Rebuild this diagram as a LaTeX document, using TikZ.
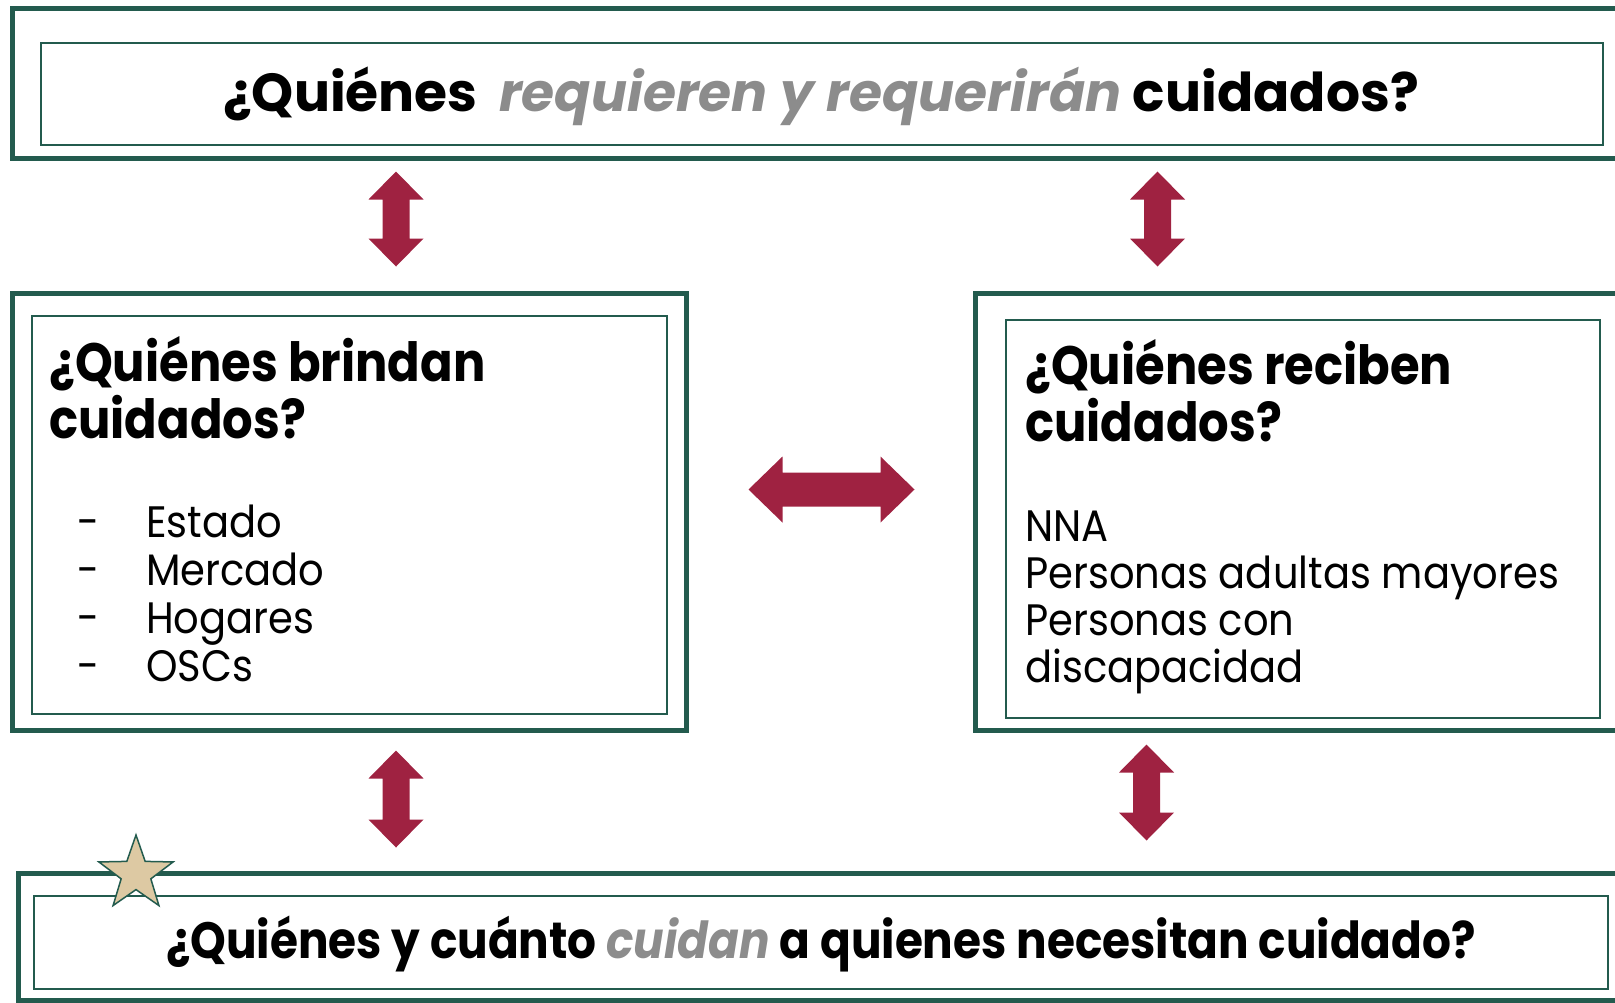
\documentclass[tikz,border=0pt]{standalone}
\usepackage{fontspec}
\setmainfont{Poppins}
\newfontfamily\narrowhead[FakeStretch=0.89]{Poppins}
\newfontfamily\narrowbody[FakeStretch=0.91]{Poppins}
\usetikzlibrary{shapes.geometric,calc}
\definecolor{boxgreen}{HTML}{235B4E}
\definecolor{arrowred}{HTML}{9F2241}
\definecolor{stargold}{HTML}{DDC9A3}
\definecolor{textgrey}{HTML}{8C8C8C}

\begin{document}
\begin{tikzpicture}[x=1pt,y=-1pt,
  outerbox/.style={draw=boxgreen, line width=5pt, inner sep=0pt},
  innerbox/.style={draw=boxgreen, line width=1.8pt, inner sep=0pt},
  vblock/.style={fill=arrowred, to path={let \p1=(\tikztostart), \p2=(\tikztotarget) in
    (\x1,\y1) -- (\x1+27.5pt,\y1-28pt) -- (\x1+13.5pt,\y1-28pt) -- (\x1+13.5pt,\y2+28pt) -- (\x1+27.5pt,\y2+28pt)
    -- (\x1,\y2) -- (\x1-27.5pt,\y2+28pt) -- (\x1-13.5pt,\y2+28pt) -- (\x1-13.5pt,\y1-28pt) -- (\x1-27.5pt,\y1-28pt) -- cycle}},
  hblock/.style={fill=arrowred, to path={let \p1=(\tikztostart), \p2=(\tikztotarget) in
    (\x1,\y1) -- (\x1+34pt,\y1+33pt) -- (\x1+34pt,\y1+17pt) -- (\x2-34pt,\y1+17pt) -- (\x2-34pt,\y1+33pt)
    -- (\x2,\y1) -- (\x2-34pt,\y1-33pt) -- (\x2-34pt,\y1-17pt) -- (\x1+34pt,\y1-17pt) -- (\x1+34pt,\y1-33pt) -- cycle}},
  title/.style={font=\fontsize{53.5}{60}\selectfont\bfseries, inner sep=0pt},
  head/.style={font=\narrowhead\fontsize{54}{60}\selectfont\bfseries, inner sep=0pt},
  body/.style={font=\narrowbody\fontsize{44}{50}\selectfont, inner sep=0pt}]
\clip (0,0) rectangle (1615,1002);
\node[outerbox, minimum width=1628pt, minimum height=150pt] (top) at (826,83) {};
\node[innerbox, minimum width=1562pt, minimum height=102pt] (topin) at (822,94) {};
\node[outerbox, minimum width=674pt, minimum height=437pt] (givers) at (349,511.5) {};
\node[innerbox, minimum width=635pt, minimum height=398pt] (giversin) at (349.5,515) {};
\node[outerbox, minimum width=665pt, minimum height=437pt] (receivers) at (1307.5,511.5) {};
\node[innerbox, minimum width=594pt, minimum height=398pt] (receiversin) at (1303,519) {};
\node[outerbox, minimum width=1622pt, minimum height=127pt] (bottom) at (829,936.5) {};
\node[innerbox, minimum width=1574pt, minimum height=93pt] (bottomin) at (821,942.5) {};

\node[title, anchor=base] (toptext) at (821,111) {¿Quiénes\hspace{10pt} \textcolor{textgrey}{\itshape requieren y requerirán} cuidados?};
\node[head, anchor=base west] (giverhead) at (49,381) {¿Quiénes brindan};
\node[head, anchor=base west] (givertail) at (49,438) {cuidados?};
\foreach \lbl [count=\i] in {Estado,Mercado,Hogares,OSCs} {
  \node[body, anchor=base west] (dash-\i) at (77,{537+48*(\i-1)}) {-};
  \node[body, anchor=base west] (giver-\i) at (146,{537+48*(\i-1)}) {\lbl};
}
\node[head, anchor=base west] (recvhead) at (1025,384) {¿Quiénes reciben};
\node[head, anchor=base west] (recvtail) at (1025,441) {cuidados?};
\foreach \lbl [count=\i] in {NNA,Personas adultas mayores,Personas con,discapacidad}
  \node[body, anchor=base west] (recv-\i) at (1025,{541+47.3*(\i-1)}) {\lbl};
\node[head, font=\narrowhead\fontsize{51}{56}\selectfont\bfseries, anchor=base] (bottext) at (821,958) {¿Quiénes y cuánto \textcolor{textgrey}{\itshape cuidan} a quienes necesitan cuidado?};

\path[vblock] ($(givers.north |- top.south)+(47,11)$) to ($(givers.north)+(47,-24)$);
\path[vblock] ($(receivers.north |- top.south)+(-150,11)$) to ($(receivers.north)+(-150,-24)$);
\path[hblock] ($(givers.east)+(60,-22)$) to ($(receivers.west)+(-58,-22)$);
\path[vblock] ($(givers.south)+(47,18)$) to ($(givers.south |- bottom.north)+(47,-23)$);
\path[vblock] ($(receivers.south)+(-161,12)$) to ($(receivers.south |- bottom.north)+(-161,-30)$);

\node[star, star points=5, star point ratio=2.5, minimum size=78pt, inner sep=0pt, fill=stargold, draw=boxgreen, line width=1.5pt] (badge) at (136,874) {};
\end{tikzpicture}
\end{document}
